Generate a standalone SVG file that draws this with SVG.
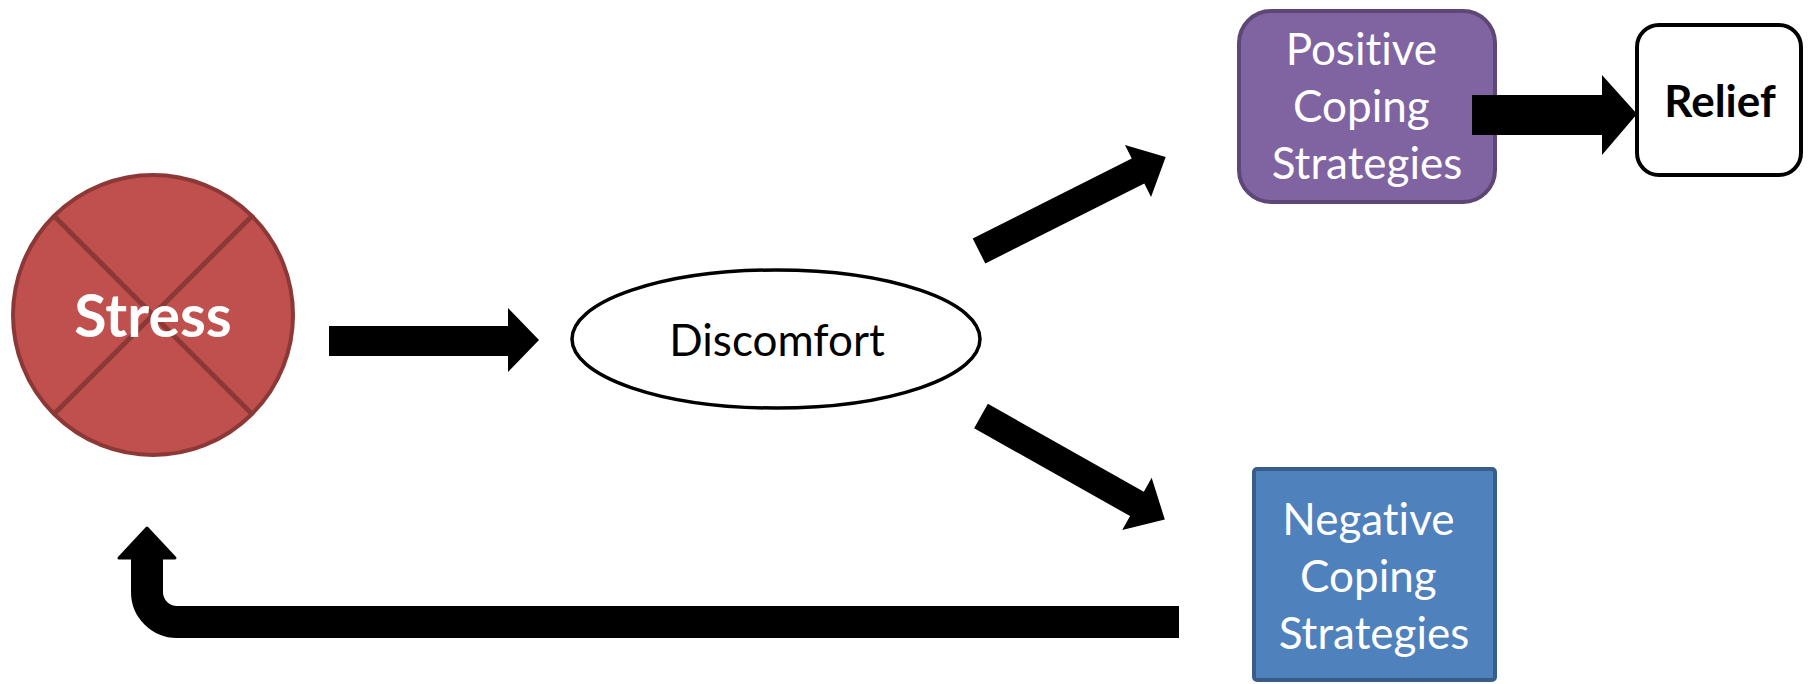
<svg xmlns="http://www.w3.org/2000/svg" width="1814" height="684" viewBox="0 0 1814 684">
  <style>
    .lbl { font-family: Lato, "Open Sans", "Liberation Sans", sans-serif; text-anchor: middle; font-variant-ligatures: none; font-feature-settings: "liga" 0, "dlig" 0; }
    .white { fill: #FFFFFF; }
    .black { fill: #000000; }
    .arrow { fill: #000000; stroke: none; }
  </style>
  <rect x="0" y="0" width="1814" height="684" fill="#FFFFFF"/>

  <g id="node-stress">
    <circle cx="153" cy="315" r="140" fill="#C0504D" stroke="#8C3836" stroke-width="4"/>
    <line x1="54" y1="216" x2="252" y2="414" stroke="#8C3836" stroke-width="5"/>
    <line x1="252" y1="216" x2="54" y2="414" stroke="#8C3836" stroke-width="5"/>
    <text class="lbl white" x="153" y="337" font-size="59" font-weight="bold">Stress</text>
  </g>

  <g id="node-discomfort">
    <ellipse cx="776" cy="339" rx="204" ry="69" fill="#FFFFFF" stroke="#000000" stroke-width="3.5"/>
    <text class="lbl black" x="777" y="356" font-size="44">Discomfort</text>
  </g>

  <g id="node-positive">
    <rect x="1239" y="11" width="256" height="191" rx="32" ry="32" fill="#8064A2" stroke="#5C4776" stroke-width="4"/>
    <text class="lbl white" font-size="44">
      <tspan x="1367" y="65">Positive</tspan>
      <tspan x="1367" y="122">Coping</tspan>
      <tspan x="1367" y="179">Strategies</tspan>
    </text>
  </g>

  <g id="node-relief">
    <rect x="1637" y="25" width="164" height="150" rx="22" ry="22" fill="#FFFFFF" stroke="#000000" stroke-width="4"/>
    <text class="lbl black" x="1720" y="117" font-size="44" font-weight="bold">Relief</text>
  </g>

  <g id="node-negative">
    <rect x="1254" y="469" width="241" height="211" rx="3" ry="3" fill="#4F81BD" stroke="#385D8A" stroke-width="4"/>
    <text class="lbl white" font-size="44">
      <tspan x="1374" y="535">Negative</tspan>
      <tspan x="1374" y="592">Coping</tspan>
      <tspan x="1374" y="649">Strategies</tspan>
    </text>
  </g>

  <g id="connectors">
    <path class="arrow" d="M329,326 H508 V308 L539,340 L508,372 V356 H329 Z"/>
    <path class="arrow" transform="translate(979,251) rotate(-26.7)" d="M0,-14 H178 V-29 L209,0 L178,29 V14 H0 Z"/>
    <path class="arrow" transform="translate(981,416) rotate(29.4)" d="M0,-14 H179 V-30 L211,0 L179,30 V14 H0 Z"/>
    <path class="arrow" d="M1472,95 H1602 V75 L1637,114 L1602,155 V135 H1472 Z"/>
    <path d="M1179,622 H177 A30,30 0 0 1 147,592 V556" fill="none" stroke="#000000" stroke-width="32" stroke-linejoin="round"/>
    <path d="M119,558 L147,528 L175,558 Z" fill="#000000" stroke="#000000" stroke-width="3" stroke-linejoin="round"/>
  </g>
</svg>
